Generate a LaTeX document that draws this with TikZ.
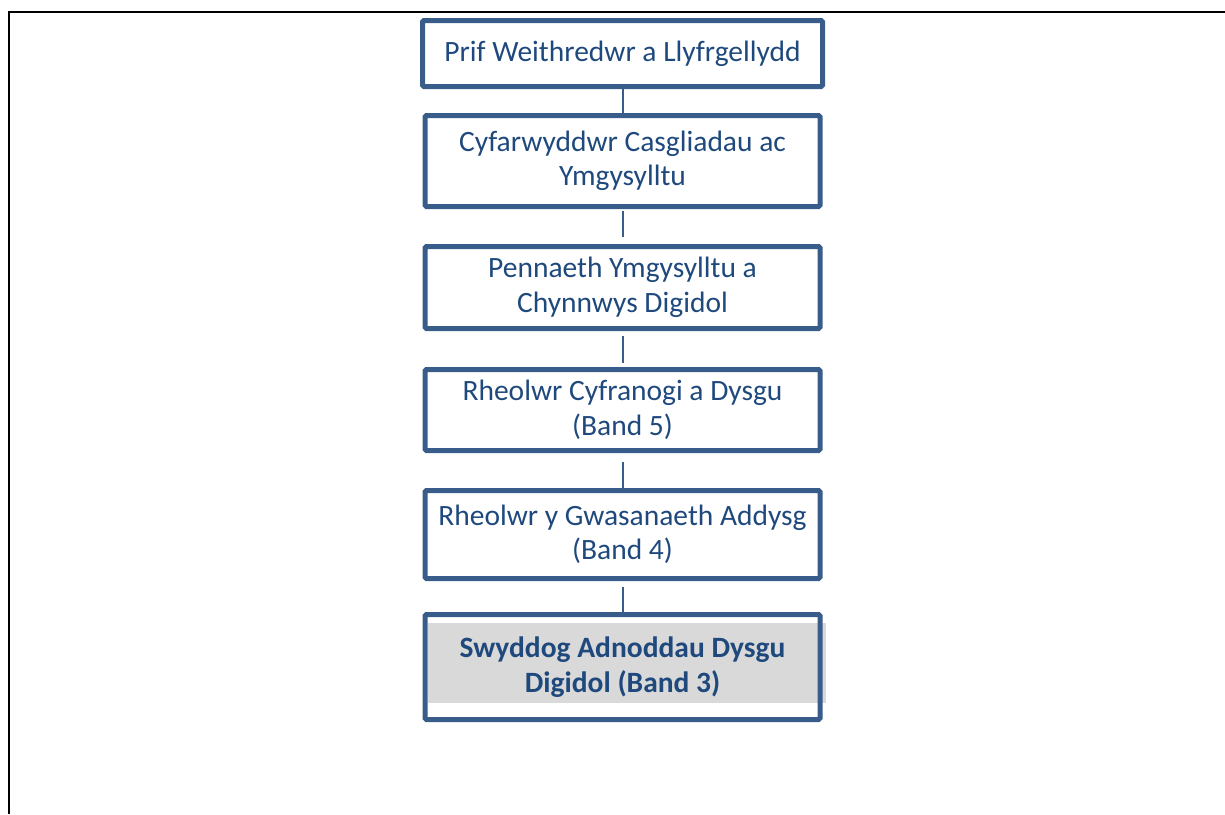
\documentclass[tikz,border=0pt]{standalone}
\usepackage{fontspec}
\setmainfont{Carlito}
\usetikzlibrary{positioning,backgrounds}
\definecolor{postblue}{HTML}{385D8A}
\definecolor{posttext}{HTML}{1F497D}
\definecolor{postgrey}{HTML}{D9D9D9}
\tikzset{
  postbox/.style={draw=postblue, line width=5pt, rounded corners=1.5pt, align=center,
    text=posttext, font=\fontsize{29.5}{34.5}\selectfont, minimum width=395pt, inner sep=0pt},
  postlink/.style={draw=postblue, line width=2pt}
}

\begin{document}
\begin{tikzpicture}[x=1pt, y=-1pt, node distance=33pt]
    \useasboundingbox (0,0) rectangle (1225,814);
    % page frame
    \draw[line width=2pt] (1225,12) -- (9,12) -- (9,814);
    \node[postbox, minimum width=400pt, minimum height=66pt] (ceo) at (622.5,53.5) {Prif Weithredwr a Llyfrgellydd};
    \node[postbox, minimum height=91pt, below=24pt of ceo] (director) {Cyfarwyddwr Casgliadau ac\\Ymgysylltu};
    \node[postbox, minimum height=82pt, below=35pt of director] (head) {Pennaeth Ymgysylltu a\\Chynnwys Digidol};
    \node[postbox, minimum height=81pt, below=36pt of head] (learning) {Rheolwr Cyfranogi a Dysgu\\(Band 5)};
    \node[postbox, minimum height=88pt, below=35pt of learning] (education) {Rheolwr y Gwasanaeth Addysg\\(Band 4)};
    \node[postbox, minimum height=105pt, below=31pt of education, font=\fontsize{29.5}{34.5}\selectfont\bfseries] (officer) {Swyddog Adnoddau Dysgu\\Digidol (Band 3)};
    \begin{scope}[on background layer]
      \fill[postgrey] ([shift={(5,11)}]officer.north west) rectangle ([shift={(3,-19)}]officer.south east);
    \end{scope}
    \draw[postlink] (ceo) -- (director);
    \draw[postlink, shorten <=2pt, shorten >=7pt] (director) -- (head);
    \draw[postlink, shorten <=5pt, shorten >=4pt] (head) -- (learning);
    \draw[postlink, shorten <=9pt] (learning) -- (education);
    \draw[postlink, shorten <=6pt] (education) -- (officer);
\end{tikzpicture}
\end{document}
